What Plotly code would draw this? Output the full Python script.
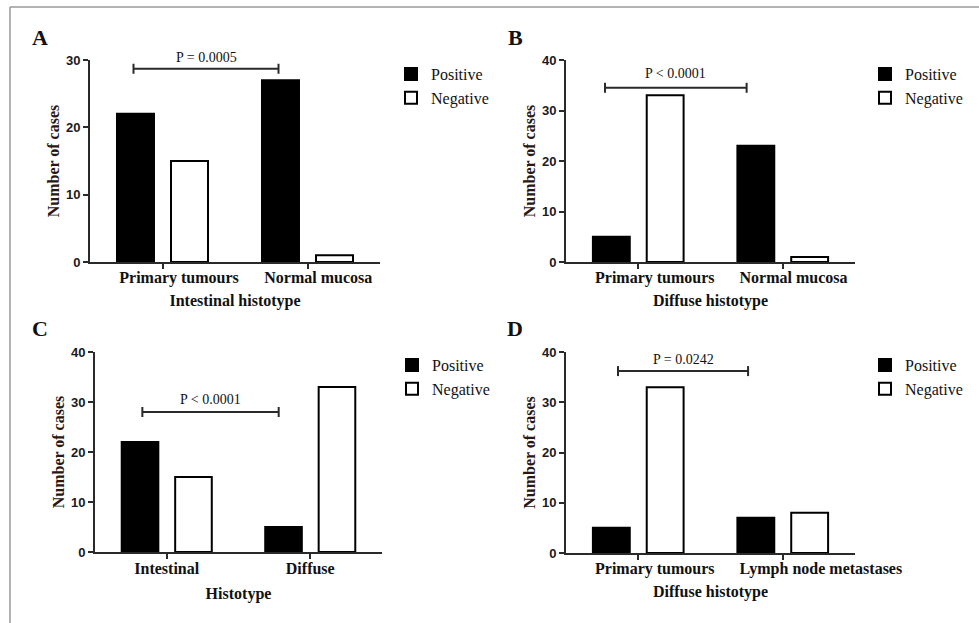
import plotly.graph_objects as go

W, H = 979, 623

# ---- data ----
series_names = ["Positive", "Negative"]
cats_a = ["Primary tumours", "Normal mucosa"]
pos_a = [22, 27]
neg_a = [15, 1]
cats_b = ["Primary tumours", "Normal mucosa"]
pos_b = [5, 23]
neg_b = [33, 1]
cats_c = ["Intestinal", "Diffuse"]
pos_c = [22, 5]
neg_c = [15, 33]
cats_d = ["Primary tumours", "Lymph node metastases"]
pos_d = [5, 7]
neg_d = [33, 8]
x_titles = ["Intestinal histotype", "Diffuse histotype", "Histotype", "Diffuse histotype"]
panel_letters = ["A", "B", "C", "D"]
p_labels = ["P = 0.0005", "P < 0.0001", "P < 0.0001", "P = 0.0242"]
y_max = [30, 40, 40, 40]

# ---- layout geometry (pixels) ----
def px(x):
    return x / W

def py(y):
    return 1 - y / H

panels = [
    dict(x0=90, x1=380, yt=60, yb=262, lx=391, ly=57, ltx=40, lty=37, left_lab=True,
         pshift=2, tstand=9, lstand=0),
    dict(x0=566, x1=855, yt=60, yb=262, lx=865, ly=57, ltx=515, lty=37, left_lab=True,
         pshift=5, tstand=9, lstand=0),
    dict(x0=95, x1=382, yt=352, yb=552, lx=392, ly=348, ltx=40, lty=328, left_lab=False,
         pshift=3, tstand=12, lstand=-4),
    dict(x0=566, x1=855, yt=352, yb=553, lx=865, ly=348, ltx=515, lty=328, left_lab=True,
         pshift=2, tstand=9, lstand=0),
]
brackets = [(-0.2, 0.8, 28.7), (-0.23, 0.75, 34.5), (-0.17, 0.78, 28.0), (-0.14, 0.76, 36.2)]
cap_px = 5

cats_all = [cats_a, cats_b, cats_c, cats_d]
pos_all = [pos_a, pos_b, pos_c, pos_d]
neg_all = [neg_a, neg_b, neg_c, neg_d]

INK = "#111111"
AX = "#2a2a2a"
serif = "Liberation Serif"
sans = "Liberation Sans"

fig = go.Figure()
layout = dict(
    width=W, height=H, autosize=False,
    margin=dict(l=0, r=0, t=0, b=0),
    paper_bgcolor="white", plot_bgcolor="white",
    barmode="group", bargap=0.255, bargroupgap=0.315,
    font=dict(family=serif, color=INK),
    shapes=[], annotations=[],
)

for i in range(4):
    n = "" if i == 0 else str(i + 1)
    p = panels[i]
    leg = "legend" if i == 0 else "legend" + str(i + 1)
    fig.add_trace(go.Bar(
        x=cats_all[i], y=pos_all[i], name=series_names[0],
        xaxis="x" + n, yaxis="y" + n, legend=leg,
        marker=dict(color="black", line=dict(color="black", width=2)),
    ))
    fig.add_trace(go.Bar(
        x=cats_all[i], y=neg_all[i], name=series_names[1],
        xaxis="x" + n, yaxis="y" + n, legend=leg,
        marker=dict(color="white", line=dict(color="black", width=2)),
    ))
    xa = dict(
        domain=[px(p["x0"]), px(p["x1"])], anchor="y" + n,
        range=[-0.5, 1.5], showline=True, linecolor=AX, linewidth=2,
        ticks="outside", ticklen=5, tickwidth=1.5, tickcolor=AX,
        showgrid=False, zeroline=False, fixedrange=True, tickangle=0,
        automargin=False, ticklabelstandoff=p["lstand"],
        tickfont=dict(family=serif, size=16, weight="bold", color=INK),
        title=dict(text=x_titles[i], standoff=p["tstand"],
                   font=dict(family=serif, size=16, weight="bold", color=INK)),
    )
    if p["left_lab"]:
        xa["ticklabelposition"] = "outside right"
        xa["ticklabelshift"] = -45
    layout["xaxis" + n] = xa
    layout["yaxis" + n] = dict(
        domain=[py(p["yb"]), py(p["yt"])], anchor="x" + n,
        range=[0, y_max[i]], dtick=10, showline=True, linecolor=AX, linewidth=2,
        ticks="outside", ticklen=5, tickwidth=1.5, tickcolor=AX,
        showgrid=False, zeroline=False, fixedrange=True, automargin=False,
        tickfont=dict(family=sans, size=13, weight="bold", color="#1a1a22"),
        title=dict(text="Number of cases", standoff=2,
                   font=dict(family=serif, size=16, weight="bold", color="#2a1612")),
    )
    layout[leg] = dict(
        x=px(p["lx"]), y=py(p["ly"]), xanchor="left", yanchor="top",
        bgcolor="rgba(0,0,0,0)", borderwidth=0,
        font=dict(family=serif, size=16, color=INK),
        tracegroupgap=0,
    )
    bx0, bx1, by = brackets[i]
    cap = cap_px * y_max[i] / (p["yb"] - p["yt"])
    xr, yr = "x" + n, "y" + n
    for seg in [(bx0, by, bx1, by), (bx0, by - cap, bx0, by + cap), (bx1, by - cap, bx1, by + cap)]:
        layout["shapes"].append(dict(type="line", xref=xr, yref=yr,
                                     x0=seg[0], y0=seg[1], x1=seg[2], y1=seg[3],
                                     line=dict(color=AX, width=2)))
    layout["annotations"].append(dict(
        xref=xr, yref=yr, x=(bx0 + bx1) / 2, y=by, yshift=p["pshift"],
        text=p_labels[i], showarrow=False, xanchor="center", yanchor="bottom",
        font=dict(family=serif, size=14, color=INK),
    ))
    layout["annotations"].append(dict(
        xref="paper", yref="paper", x=px(p["ltx"]), y=py(p["lty"]),
        text=panel_letters[i], showarrow=False, xanchor="center", yanchor="middle",
        font=dict(family=serif, size=22, weight="bold", color=INK),
    ))

layout["shapes"].append(dict(type="line", xref="paper", yref="paper",
                             x0=px(10), y0=py(7), x1=1, y1=py(7),
                             line=dict(color="#9a9a9a", width=1.5)))
layout["shapes"].append(dict(type="line", xref="paper", yref="paper",
                             x0=px(10), y0=py(7), x1=px(10), y1=0,
                             line=dict(color="#9a9a9a", width=1.5)))

fig.update_layout(**layout)
fig.write_html("out.html", config={"displayModeBar": False})

# remove default page margins so the figure sits at the window origin
with open("out.html", "r", encoding="utf-8") as f:
    html = f.read()
html = html.replace("<head>", "<head><style>html,body{margin:0;padding:0;overflow:hidden;}</style>", 1)
with open("out.html", "w", encoding="utf-8") as f:
    f.write(html)
